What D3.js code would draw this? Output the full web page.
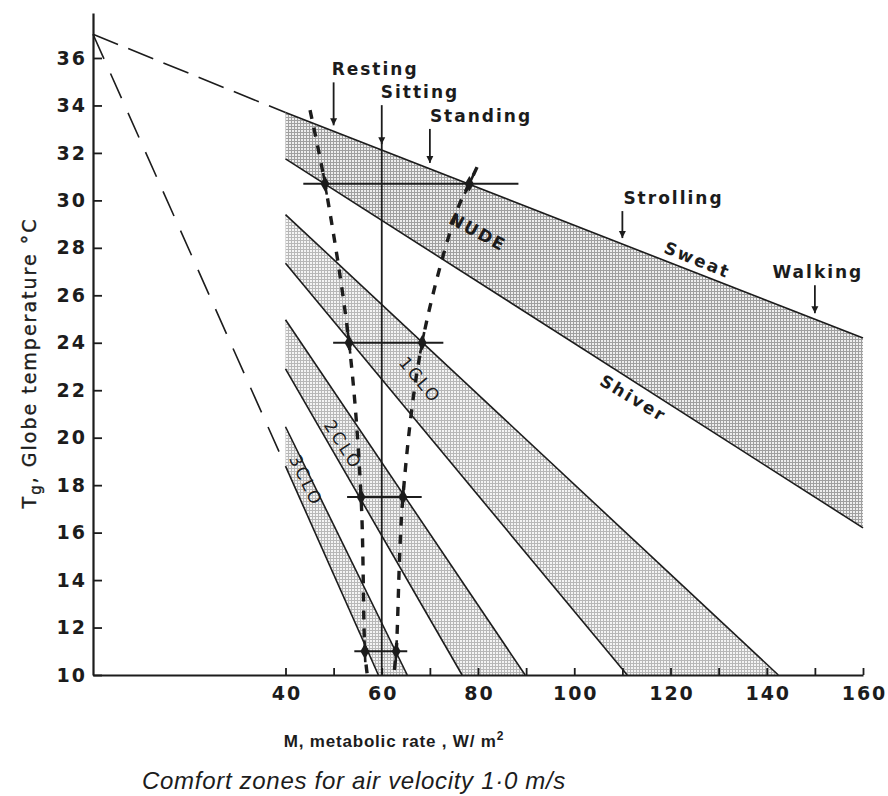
<!DOCTYPE html>
<html><head><meta charset="utf-8">
<script src="https://cdn.jsdelivr.net/npm/d3@7"></script>
<style>
html,body{margin:0;padding:0;background:#fff;}
svg{display:block;}
</style></head>
<body>
<svg id="chart" width="888" height="796"></svg>
<script>
// Metabolic rate axis (W/m²)
const mTicks = [40, 50, 60, 70, 80, 90, 100, 110, 120, 130, 140, 150, 160];
const mLabels = [40, 60, 80, 100, 120, 140, 160];
// Globe temperature axis (°C)
const tTicks = [10, 12, 14, 16, 18, 20, 22, 24, 26, 28, 30, 32, 34, 36];

// All comfort boundaries meet at skin temperature
const apex = [0, 37];

// Clothing zones: sweat (upper) and shiver (lower) boundaries, [M, T] end points
const zoneNames = ["NUDE", "1CLO", "2CLO", "3CLO"];
const sweatLines = [
  [[40, 33.7], [160, 24.2]],
  [[40, 29.4], [142.4, 10]],
  [[40, 24.97], [89.8, 10]],
  [[40, 20.46], [65.3, 10]]
];
const shiverLines = [
  [[40, 31.75], [160, 16.2]],
  [[40, 27.35], [111, 10]],
  [[40, 22.9], [76.7, 10]],
  [[40, 18.8], [59.3, 10]]
];
const zoneLabelAt = [[80, 28.67], [68, 22.43], [52, 19.7], [44.3, 18.2]];
const zoneLabelAngle = [28, 50, 57, 64];
const boundaryNames = ["Sweat", "Shiver"];
const boundaryLabelAt = [[125.6, 27.5], [112.3, 21.67]];
const boundaryLabelAngle = [22, 31];

// Activity levels marked on the nude sweat line
const activities = ["Resting", "Sitting", "Standing", "Strolling", "Walking"];
const activityM = [50, 60, 70, 110, 150];

// Spread of neutral metabolic rate at four globe temperatures
const barT = [30.7, 24.0, 17.5, 11.0];
const barLow = [43.7, 49.9, 52.8, 54.3];
const barHigh = [88.4, 72.8, 68.3, 65.3];
const leftMarkM = [48.2, 53.2, 55.7, 56.5];
const rightMarkM = [78.2, 68.4, 64.4, 63.0];
const leftCurve = [[45.1, 33.8], [48.2, 30.7], [53.2, 24.0], [55.7, 17.5], [56.5, 11.0], [57.0, 10]];
const rightCurve = [[79.8, 31.4], [78.2, 30.7], [75.7, 29.6], [68.4, 24.0], [64.4, 17.5], [63.0, 11.0], [62.5, 10]];

const ink = "#1c1c1c";
const svg = d3.select("#chart");
const x = d3.scaleLinear().domain([0, 160]).range([93, 863]);
const y = d3.scaleLinear().domain([10, 37.9]).range([675, 12.9]);
const px = d => [x(d[0]), y(d[1])];

// screen patterns
const defs = svg.append("defs");
function screen(id, lineCol, bg) {
  const p = defs.append("pattern").attr("id", id).attr("patternUnits", "userSpaceOnUse")
    .attr("width", 3).attr("height", 3);
  p.append("rect").attr("width", 3).attr("height", 3).attr("fill", bg);
  p.append("rect").attr("width", 3).attr("height", 1).attr("fill", lineCol);
  p.append("rect").attr("width", 1).attr("height", 3).attr("fill", lineCol);
}
screen("screenDark", "#a0a0a0", "#eeeeee");
screen("screenLight", "#b8b8b8", "#f4f4f4");
const arrow = defs.append("marker").attr("id", "arrow").attr("viewBox", "0 0 10 10")
  .attr("refX", 10).attr("refY", 5).attr("markerUnits", "userSpaceOnUse")
  .attr("markerWidth", 7).attr("markerHeight", 11).attr("orient", "auto");
arrow.append("path").attr("d", "M0,0 L10,5 L0,10 Z").attr("fill", ink);

// zone fills
zoneNames.forEach((name, i) => {
  const up = sweatLines[i], lo = shiverLines[i];
  const pts = [up[0], up[1], lo[1], lo[0]].map(px);
  svg.append("path").attr("d", "M" + pts.join("L") + "Z")
    .attr("fill", i === 0 ? "url(#screenDark)" : "url(#screenLight)");
});

// zone boundary lines
const line = d3.line();
[...sweatLines, ...shiverLines].forEach(l => {
  svg.append("path").attr("d", line(l.map(px))).attr("fill", "none")
    .attr("stroke", ink).attr("stroke-width", 1.6);
});

// dashed extensions back to the apex
svg.append("path").attr("d", line([apex, sweatLines[0][0]].map(px)))
  .attr("fill", "none").attr("stroke", ink).attr("stroke-width", 1.6)
  .attr("stroke-dasharray", "27,11");
svg.append("path").attr("d", line([apex, shiverLines[3][0]].map(px)))
  .attr("fill", "none").attr("stroke", ink).attr("stroke-width", 1.6)
  .attr("stroke-dasharray", "27,16");

// axes
const xAxis = d3.axisBottom(x).tickValues(mTicks).tickSizeInner(-7).tickSizeOuter(0)
  .tickPadding(11).tickFormat(d => mLabels.includes(d) ? d : "");
const gx = svg.append("g").attr("transform", `translate(0,${y(10)})`).call(xAxis);
const yAxis = d3.axisLeft(y).tickValues(tTicks).tickSizeInner(-9).tickSizeOuter(0)
  .tickPadding(7);
const gy = svg.append("g").attr("transform", `translate(${x(0)},0)`).call(yAxis);
[gx, gy].forEach(g => {
  g.select(".domain").attr("stroke", ink).attr("stroke-width", 2.2);
  g.selectAll(".tick line").attr("stroke", ink).attr("stroke-width", 1.8);
  g.selectAll(".tick text").attr("fill", ink)
    .style("font-family", "'DejaVu Sans', sans-serif").style("font-weight", "bold")
    .style("font-size", "19px").style("letter-spacing", "2px");
});
gx.selectAll(".tick text").attr("dy", "0.72em").attr("dx", "1px");
gy.selectAll(".tick text").attr("dx", "1px");

// activity arrows against the nude sweat line
const nudeSweat = m => {
  const [a, b] = sweatLines[0];
  return a[1] + (b[1] - a[1]) * (m - a[0]) / (b[0] - a[0]);
};
const arrowLen = [43, 39, 34, 27, 28];
const labelAnchor = ["start", "start", "start", "start", "middle"];
const labelDx = [-2, -1, 0, 1, 3];
activities.forEach((name, i) => {
  const ax = x(activityM[i]);
  const tip = y(nudeSweat(activityM[i])) - 6;
  const tail = tip - arrowLen[i];
  svg.append("line").attr("x1", ax).attr("x2", ax).attr("y1", tail).attr("y2", tip)
    .attr("stroke", ink).attr("stroke-width", 1.8).attr("marker-end", "url(#arrow)");
  if (name === "Sitting") {
    svg.append("line").attr("x1", ax).attr("x2", ax).attr("y1", tip - 2).attr("y2", y(10))
      .attr("stroke", ink).attr("stroke-width", 1.8);
  }
  svg.append("text").attr("x", ax + labelDx[i]).attr("y", tail - 7)
    .attr("text-anchor", labelAnchor[i]).attr("fill", ink)
    .style("font-family", "'DejaVu Sans', sans-serif").style("font-weight", "bold")
    .style("font-size", "17px").style("letter-spacing", "2px").text(name);
});

// spread bars
barT.forEach((t, i) => {
  svg.append("line").attr("x1", x(barLow[i])).attr("x2", x(barHigh[i]))
    .attr("y1", y(t)).attr("y2", y(t)).attr("stroke", ink).attr("stroke-width", 1.8);
});

// neutral curves
const curve = d3.line().curve(d3.curveCatmullRom.alpha(0.5));
[leftCurve, rightCurve].forEach(c => {
  svg.append("path").attr("d", curve(c.map(px))).attr("fill", "none")
    .attr("stroke", ink).attr("stroke-width", 3.4).attr("stroke-dasharray", "9,9");
});

// markers where the curves cross the bars
function marks(ms, c) {
  ms.forEach((m, i) => {
    const cx = x(m), cy = y(barT[i]);
    svg.append("path").attr("d", d3.symbol(d3.symbolDiamond, 70)())
      .attr("transform", `translate(${cx},${cy})`).attr("fill", ink);
    // short solid piece of the curve through the marker
    const k = c.findIndex(p => p[0] === m);
    const a = px(c[Math.max(0, k - 1)]), b = px(c[Math.min(c.length - 1, k + 1)]);
    const dx = b[0] - a[0], dy = b[1] - a[1], L = Math.hypot(dx, dy);
    svg.append("line").attr("x1", cx - dx / L * 11).attr("y1", cy - dy / L * 11)
      .attr("x2", cx + dx / L * 11).attr("y2", cy + dy / L * 11)
      .attr("stroke", ink).attr("stroke-width", 2.6);
  });
}
marks(leftMarkM, leftCurve);
marks(rightMarkM, rightCurve);

// zone labels
zoneNames.forEach((name, i) => {
  const [lx, ly] = px(zoneLabelAt[i]);
  svg.append("text").attr("transform", `translate(${lx},${ly}) rotate(${zoneLabelAngle[i]})`)
    .attr("text-anchor", "middle").attr("dy", "0.36em").attr("fill", ink)
    .style("font-family", "'DejaVu Sans', sans-serif")
    .style("font-weight", i === 0 ? "bold" : "normal")
    .style("font-size", "17px")
    .style("letter-spacing", i === 0 ? "2px" : "2.5px").text(name);
});
boundaryNames.forEach((name, i) => {
  const [lx, ly] = px(boundaryLabelAt[i]);
  svg.append("text").attr("transform", `translate(${lx},${ly}) rotate(${boundaryLabelAngle[i]})`)
    .attr("text-anchor", "middle").attr("dy", "0.36em").attr("fill", ink)
    .style("font-family", "'DejaVu Sans', sans-serif").style("font-weight", "bold")
    .style("font-size", "17px").style("letter-spacing", "2.2px").text(name);
});

// axis titles
const yl = svg.append("text").attr("transform", "translate(36,363) rotate(-90)")
  .attr("text-anchor", "middle").attr("fill", ink)
  .attr("stroke", ink).attr("stroke-width", 0.35)
  .style("font-family", "'DejaVu Sans', sans-serif").style("font-size", "19px")
  .style("letter-spacing", "2px");
yl.append("tspan").text("T");
yl.append("tspan").attr("dy", 5).style("font-size", "15px").text("g");
yl.append("tspan").attr("dy", -5).text(", Globe temperature °C");

const xl = svg.append("text").attr("x", 394).attr("y", 747).attr("text-anchor", "middle")
  .attr("fill", ink).style("font-family", "'Liberation Sans', Arial, sans-serif")
  .style("font-weight", "bold").style("font-size", "17px").style("letter-spacing", "0.8px");
xl.append("tspan").text("M, metabolic rate , W/ m");
xl.append("tspan").attr("dy", -7).style("font-size", "12px").text("2");

svg.append("text").attr("x", 142).attr("y", 789).attr("fill", ink)
  .style("font-family", "'Liberation Sans', Arial, sans-serif").style("font-style", "italic")
  .style("font-size", "24px").style("letter-spacing", "0.7px")
  .text("Comfort zones for air velocity 1·0 m/s");
</script>
</body></html>
